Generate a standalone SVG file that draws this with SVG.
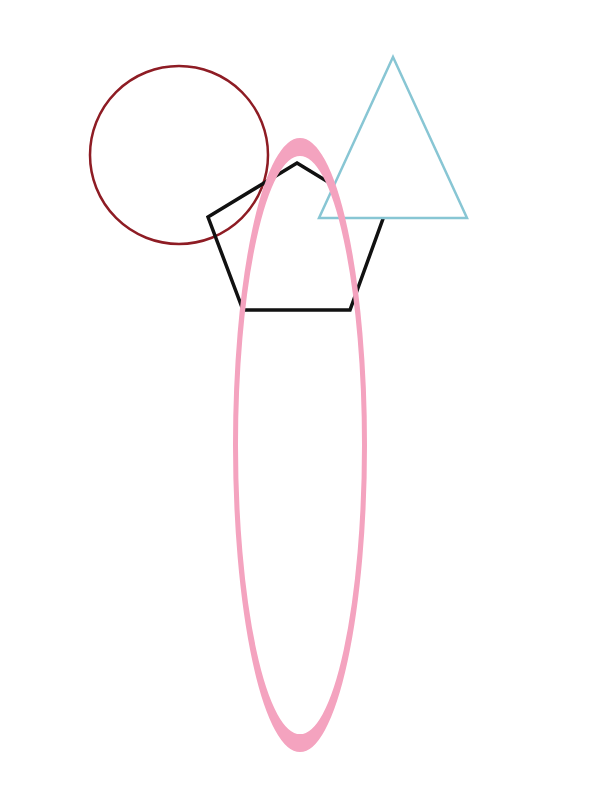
<svg xmlns="http://www.w3.org/2000/svg" width="600" height="800" viewBox="0 0 600 800">
<style>
.s{stroke-linejoin:miter}
</style>
<rect width="600" height="800" fill="#ffffff"/>
<circle cx="179" cy="155" r="89" fill="none" stroke="#8e1c24" stroke-width="2.5"/>
<polygon points="297,163 384,216 350,310 243,310 208,217" fill="none" stroke="#111111" stroke-width="3.5"/>
<polygon points="393,57 467,218 319,218" fill="#ffffff" stroke="#88c6d4" stroke-width="2.5"/>
<ellipse transform="translate(300,445) scale(1,3.6)" cx="0" cy="0" rx="64.5" ry="82.8" fill="none" stroke="#f4a3bf" stroke-width="5"/>
</svg>
